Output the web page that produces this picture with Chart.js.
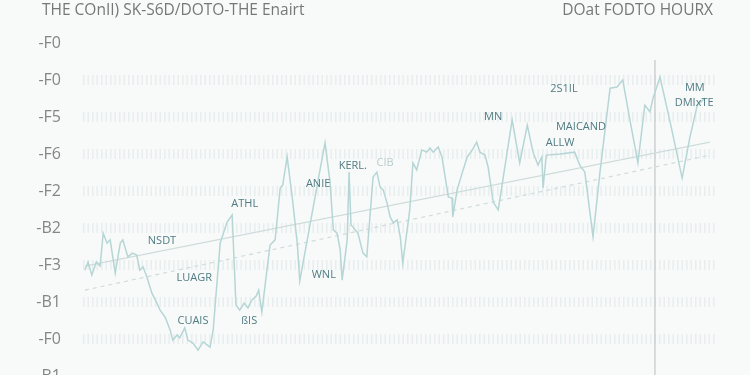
<!DOCTYPE html>
<html><head><meta charset="utf-8">
<script src="https://cdn.jsdelivr.net/npm/chart.js@4.4.1/dist/chart.umd.min.js"></script>
<style>
html,body{margin:0;padding:0;background:#f8faf9;overflow:hidden;}
canvas{display:block;}
</style></head>
<body><canvas id="c" width="750" height="375"></canvas>
<script>
const titleLeft = "THE COnII) SK-S6D/DOTO-THE Enairt";
const titleRight = "DOat FODTO HOURX";
const yTickLabels = ["-B1","-F0","-B1","-F3","-B2","-F2","-F6","-F5","-F0","-F0"];
const seriesX = [0.3,0.8,1.4,2.1,2.7,3.2,3.8,4.3,5.1,5.9,6.3,7.1,7.8,8.5,9.0,9.5,10.1,10.9,11.7,12.2,13.0,13.8,14.2,14.9,15.3,16.1,16.6,17.4,18.2,19.0,20.1,20.6,21.7,22.8,23.6,24.2,24.8,25.5,26.1,26.7,27.4,27.8,28.3,29.1,29.6,30.4,31.2,31.6,32.3,33.1,33.9,34.3,37.5,38.3,39.1,39.6,40.2,40.7,41.0,41.8,42.1,42.4,42.7,43.5,44.3,44.9,45.9,46.5,47.0,47.5,48.1,48.6,49.1,49.7,50.2,50.6,51.7,52.2,52.8,53.6,54.4,54.9,55.4,56.2,56.8,57.3,57.8,58.4,58.5,59.2,60.0,60.8,61.6,62.3,62.8,63.6,64.1,64.9,65.7,67.9,69.1,70.3,71.2,72.0,72.6,72.8,73.3,75.5,77.8,78.6,79.4,80.7,81.8,83.4,84.5,85.4,86.6,87.8,88.9,89.7,90.2,91.3,92.9,94.8,96.0,97.2,98.4];
const seriesY = [2.86,3.08,2.73,3.08,2.97,3.86,3.59,3.68,2.78,3.59,3.68,3.22,3.32,3.27,2.86,2.95,2.68,2.24,1.97,1.78,1.59,1.24,0.97,1.11,1.03,1.30,0.97,0.89,0.70,0.92,0.78,1.24,3.59,4.16,4.35,1.92,1.78,1.97,1.84,2.05,2.16,2.32,1.73,2.86,3.54,3.68,5.08,5.16,5.92,4.84,3.59,2.57,5.57,6.30,5.22,3.95,3.86,3.41,2.59,3.68,5.51,4.08,4.03,3.86,3.32,3.22,5.38,5.51,5.11,5.03,4.68,4.30,4.14,4.22,3.76,3.05,4.49,5.76,5.57,6.11,6.05,6.16,6.05,6.19,5.92,5.38,4.84,4.81,4.30,5.03,5.49,5.92,6.11,6.32,6.05,5.97,5.65,4.70,4.49,6.92,5.76,6.78,6.05,5.70,5.92,5.08,5.97,6.00,6.05,5.70,5.51,3.76,5.51,7.78,7.81,8.00,6.86,5.76,7.32,7.14,7.51,8.08,6.86,5.35,6.43,7.32,7.51];
const trendSolidX = [0.3, 99.2];
const trendSolidY = [2.97, 6.32];
const trendDashX = [0.3, 99.2];
const trendDashY = [2.32, 5.97];
const markerX = 90.5;
const markerTop = 8.54;
const noteText = ["NSDT","ATHL","LUAGR","CUAIS","ßIS","WNL","ANIE","KERL.","CIB","MN","MAICAND","ALLW","2S1IL","MM","DMIxTE"];
const noteX = [12.5,25.6,17.6,17.4,26.3,38.1,37.2,42.7,47.8,64.9,78.8,75.5,76.1,96.8,96.7];
const noteY = [3.65,4.65,2.65,1.49,1.49,2.73,5.19,5.68,5.76,7.0,6.73,6.30,7.76,7.78,7.38];
const noteFaint = [false,false,false,false,false,false,false,false,true,false,false,false,false,false,false];

const toPts = (xs, ys) => xs.map((x, i) => ({x, y: ys[i]}));
const ROW_PX = 37;

const overlay = {
  id: 'overlay',
  afterLayout(chart) {
    const y = chart.scales.y;
    const area = chart.chartArea;
    y.min = y.max - (area.bottom - area.top) / ROW_PX;
    y.configure();
  },
  beforeDatasetsDraw(chart) {
    const {ctx, scales:{x, y}, chartArea} = chart;
    ctx.save();
    ctx.strokeStyle = '#c6caca';
    ctx.lineWidth = 1.3;
    ctx.beginPath();
    const px = x.getPixelForValue(markerX);
    ctx.moveTo(px, y.getPixelForValue(markerTop));
    ctx.lineTo(px, chartArea.bottom + 40);
    ctx.stroke();
    ctx.restore();
  },
  afterDraw(chart) {
    const {ctx, scales:{x, y}} = chart;
    ctx.save();
    ctx.textBaseline = 'middle';
    ctx.fillStyle = '#777777';
    ctx.font = '500 15.5px "Open Sans", sans-serif';
    ctx.textAlign = 'left';
    ctx.fillText(titleLeft, 42, 11);
    ctx.textAlign = 'right';
    ctx.fillText(titleRight, 713, 11);
    ctx.textAlign = 'center';
    ctx.font = '11px "Open Sans", sans-serif';
    noteText.forEach((t, i) => {
      ctx.fillStyle = noteFaint[i] ? '#b9cccc' : '#4f7b82';
      ctx.fillText(t, x.getPixelForValue(noteX[i]), y.getPixelForValue(noteY[i]));
    });
    ctx.restore();
  }
};

new Chart(document.getElementById('c'), {
  type: 'line',
  data: {
    datasets: [
      {data: toPts(seriesX, seriesY), borderColor: '#b5d6d5', borderWidth: 1.5, pointRadius: 0, tension: 0, clip: false},
      {data: toPts(trendSolidX, trendSolidY), borderColor: '#cfdcdc', borderWidth: 1.2, pointRadius: 0},
      {data: toPts(trendDashX, trendDashY), borderColor: '#cfdcdc', borderWidth: 1.2, pointRadius: 0, borderDash: [4,4]}
    ]
  },
  options: {
    responsive: false,
    animation: false,
    layout: {padding: {top: 43, right: 35, bottom: 4, left: 0}},
    plugins: {legend: {display: false}, tooltip: {enabled: false}},
    scales: {
      x: {type: 'linear', min: 0, max: 100, display: false},
      y: {
        type: 'linear', min: 0, max: 9,
        afterFit(s) { s.width = 83; },
        afterBuildTicks(s) { s.ticks = yTickLabels.map((_, i) => ({value: i})); },
        border: {display: false, dash: [1.5, 3]},
        grid: {
          drawTicks: false,
          lineWidth: 10,
          color: (c) => c.tick && (c.tick.value === 9 || c.tick.value === 0) ? 'rgba(0,0,0,0)' : 'rgba(200,214,214,0.32)'
        },
        ticks: {
          padding: 22,
          color: '#858585',
          font: {family: '"Open Sans", sans-serif', size: 16},
          callback: (v) => yTickLabels[v]
        }
      }
    }
  },
  plugins: [overlay]
});
</script></body></html>
